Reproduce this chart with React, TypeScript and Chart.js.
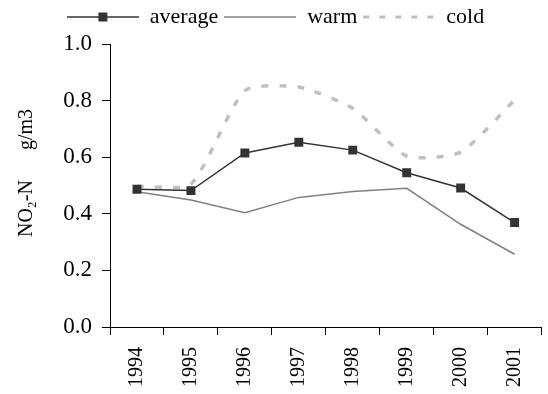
import React, { useEffect, useRef } from "react";
import { Chart, registerables } from "chart.js";

Chart.register(...registerables);

const years = ["1994", "1995", "1996", "1997", "1998", "1999", "2000", "2001"];
const average = [0.487, 0.482, 0.615, 0.653, 0.625, 0.545, 0.491, 0.369];
const warm = [0.478, 0.449, 0.404, 0.458, 0.479, 0.49, 0.363, 0.257];
const cold = [0.497, 0.505, 0.835, 0.848, 0.773, 0.604, 0.618, 0.802];
const seriesNames = ["average", "warm", "cold"];
const yTitle = "     NO\u2082-N      g/m3";

const FONT = "'Liberation Serif', 'Times New Roman', serif";
const AVG_COLOR = "#333333";
const WARM_COLOR = "#808080";
const COLD_COLOR = "#c0c0c0";
const COLD_DASH = [7, 11];

function makeSample(kind: string): HTMLCanvasElement {
  const c = document.createElement("canvas");
  c.width = 72;
  c.height = 12;
  const ctx = c.getContext("2d")!;
  ctx.beginPath();
  if (kind === "average") {
    ctx.strokeStyle = AVG_COLOR;
    ctx.lineWidth = 1.5;
    ctx.moveTo(0, 6);
    ctx.lineTo(72, 6);
    ctx.stroke();
    ctx.fillStyle = AVG_COLOR;
    ctx.fillRect(31.5, 1.5, 9, 9);
  } else if (kind === "warm") {
    ctx.strokeStyle = WARM_COLOR;
    ctx.lineWidth = 1.5;
    ctx.moveTo(0, 6);
    ctx.lineTo(72, 6);
    ctx.stroke();
  } else {
    ctx.strokeStyle = COLD_COLOR;
    ctx.lineWidth = 3;
    ctx.setLineDash([6, 10]);
    ctx.moveTo(0, 6);
    ctx.lineTo(72, 6);
    ctx.stroke();
  }
  return c;
}

const legendHeightPlugin = {
  id: "legendHeight",
  beforeLayout(chart: any) {
    const lg = chart.legend;
    if (lg && !lg._fixedHeight) {
      const orig = lg.fit.bind(lg);
      lg.fit = () => {
        orig();
        lg.height = 44;
      };
      lg._fixedHeight = true;
    }
  },
};

export default function App() {
  const ref = useRef<HTMLCanvasElement>(null);
  useEffect(() => {
    const samples = seriesNames.map((n) => makeSample(n));
    const chart = new Chart(ref.current!, {
      type: "line",
      plugins: [legendHeightPlugin],
      data: {
        labels: years,
        datasets: [
          {
            label: seriesNames[0],
            data: average,
            borderColor: AVG_COLOR,
            backgroundColor: AVG_COLOR,
            borderWidth: 1.5,
            pointStyle: "rect",
            pointRadius: 6.3,
            pointBorderWidth: 0,
            tension: 0,
            order: 0,
          },
          {
            label: seriesNames[1],
            data: warm,
            borderColor: WARM_COLOR,
            backgroundColor: WARM_COLOR,
            borderWidth: 1.5,
            pointRadius: 0,
            tension: 0,
            order: 1,
          },
          {
            label: seriesNames[2],
            data: cold,
            borderColor: COLD_COLOR,
            backgroundColor: COLD_COLOR,
            borderWidth: 3.5,
            borderDash: COLD_DASH,
            pointRadius: 0,
            tension: 0.2,
            order: 2,
          },
        ],
      },
      options: {
        responsive: false,
        animation: false,
        layout: { padding: { top: 0, right: 0, bottom: 0, left: 0 } },
        plugins: {
          tooltip: { enabled: false },
          legend: {
            display: true,
            position: "top",
            labels: {
              usePointStyle: true,
              pointStyleWidth: 72,
              padding: 6,
              color: "#000",
              font: { family: FONT, size: 22 },
              generateLabels: (ch: any) =>
                ch.data.datasets.map((ds: any, i: number) => ({
                  text: ds.label,
                  pointStyle: samples[i],
                  datasetIndex: i,
                  hidden: false,
                  lineWidth: 0,
                  strokeStyle: "rgba(0,0,0,0)",
                  fillStyle: "rgba(0,0,0,0)",
                  fontColor: "#000",
                })),
            },
          },
        },
        scales: {
          x: {
            offset: true,
            afterFit: (s: any) => {
              s.height = 67;
            },
            grid: {
              offset: true,
              drawOnChartArea: false,
              drawTicks: true,
              tickLength: 8,
              tickColor: "#000",
              tickWidth: 1,
            },
            border: { display: true, color: "#000", width: 1 },
            ticks: {
              color: "#000",
              font: { family: FONT, size: 20 },
              minRotation: 90,
              maxRotation: 90,
              padding: 12,
              autoSkip: false,
            },
          },
          y: {
            min: 0,
            max: 1,
            afterFit: (s: any) => {
              s.width = 110;
            },
            grid: {
              drawOnChartArea: false,
              drawTicks: true,
              tickLength: 8,
              tickColor: "#000",
              tickWidth: 1,
            },
            border: { display: true, color: "#000", width: 1 },
            ticks: {
              stepSize: 0.2,
              color: "#000",
              font: { family: FONT, size: 23 },
              padding: 10,
              callback: (v: any) => Number(v).toFixed(1),
            },
            title: {
              display: true,
              text: yTitle,
              color: "#000",
              font: { family: FONT, size: 20 },
              padding: { top: 15, bottom: 0 },
            },
          },
        },
      },
    });
    return () => chart.destroy();
  }, []);
  return (
    <div style={{ position: "absolute", left: 0, top: 0, width: 548, height: 394, overflow: "hidden", background: "#fff" }}>
      <canvas ref={ref} width={551} height={394} style={{ display: "block" }} />
    </div>
  );
}
